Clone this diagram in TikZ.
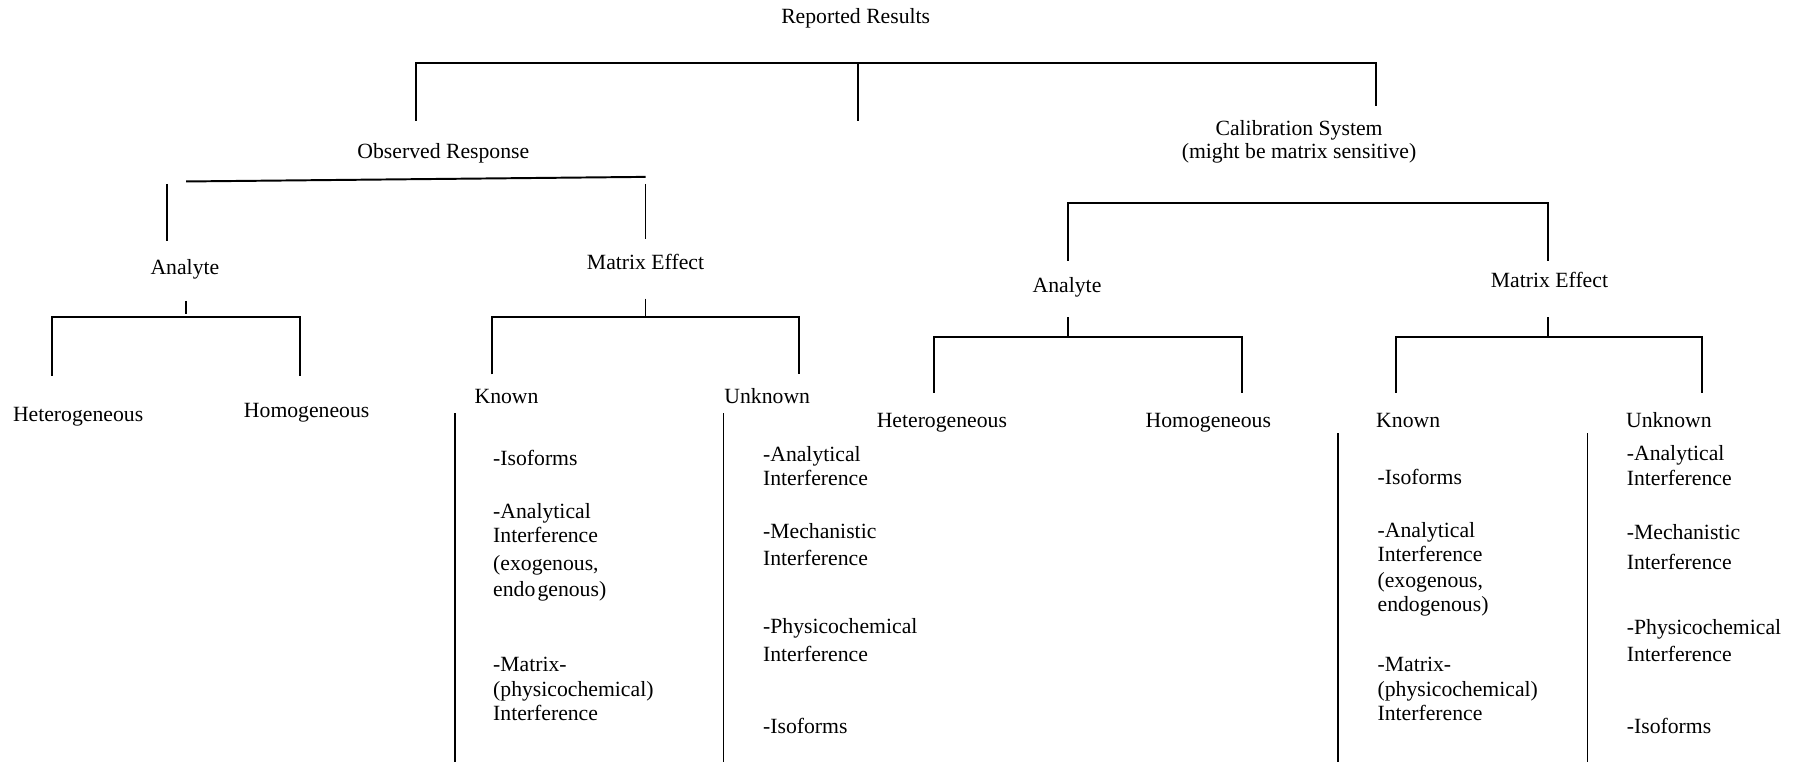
\documentclass[tikz,border=0pt]{standalone}
\usepackage{fontspec}
\setmainfont{Liberation Serif}
\usetikzlibrary{positioning}
\tikzset{
  treetext/.style={inner sep=0pt, font=\fontsize{10}{12}\selectfont, text height=0.8em, text depth=0.1em},
  listtext/.style={treetext, anchor=west},
  treeline/.style={line width=0.9pt},
  listline/.style={line width=0.6pt},
}

\begin{document}
\begin{tikzpicture}[x=0.186mm, y=-0.186mm]
  \useasboundingbox (0,0) rectangle (1568,663);
  % top level
  \node[treetext] (rep) at (745,14) {Reported Results};
  \node[treetext] (obs) at (386,131) {Observed Response};
  \node[treetext] (cal) at (1131,111) {Calibration System};
  \node[treetext] (calsub) at (1131,131) {(might be matrix sensitive)};
  \coordinate (rep-j) at (747,55); \coordinate (rep-m) at (747,105);
  \coordinate (obs-t) at (362,105); \coordinate (cal-t) at (1198,92);
  \draw[treeline] (obs-t) |- (rep-j) -| (cal-t);
  \draw[treeline] (rep-j) -- (rep-m);

  % observed response
  \node[treetext] (anaL) at (161,232) {Analyte};
  \node[treetext] (matL) at (562,228) {Matrix Effect};
  \coordinate (obs-l) at (162,158); \coordinate (obs-r) at (562,154);
  \coordinate (anaL-a) at (145,160); \coordinate (anaL-b) at (145,210);
  \coordinate (matL-a) at (562,160); \coordinate (matL-b) at (562,208);
  \draw[treeline] (obs-l) -- (obs-r);
  \draw[treeline] (anaL-a) -- (anaL-b);
  \draw[treeline] (matL-a) -- (matL-b);

  % analyte (left)
  \node[treetext] (hetL) at (68,360) {Heterogeneous};
  \node[treetext] (homL) at (267,357) {Homogeneous};
  \coordinate (anaL-s) at (162,262); \coordinate (anaL-e) at (162,273);
  \coordinate (anaL-j) at (162,276);
  \coordinate (hetL-t) at (45,327); \coordinate (homL-t) at (261,327);
  \draw[treeline] (anaL-s) -- (anaL-e);
  \draw[treeline] (hetL-t) |- (anaL-j) -| (homL-t);

  % matrix effect (left)
  \node[treetext] (knoL) at (441,345) {Known};
  \node[treetext] (unkL) at (668,345) {Unknown};
  \coordinate (matL-s) at (562,260); \coordinate (matL-j) at (562,276);
  \coordinate (knoL-t) at (428,326); \coordinate (unkL-t) at (696,326);
  \draw[treeline] (matL-s) -- (matL-j);
  \draw[treeline] (knoL-t) |- (matL-j) -| (unkL-t);
  \coordinate (knoL-a) at (396,360); \coordinate (knoL-b) at (396,663);
  \coordinate (unkL-a) at (630,360); \coordinate (unkL-b) at (630,663);
  \draw[listline] (knoL-a) -- (knoL-b);
  \draw[listline] (unkL-a) -- (unkL-b);
  \foreach \t/\y [count=\i] in {-Isoforms/399, -Analytical/445, Interference/466,
      {(exogenous,}/490, {endo\hspace{1pt}genous)}/513, -Matrix-/578,
      (physicochemical)/600, Interference/621}
    \node[listtext] (kl-\i) at (429,\y) {\t};
  \foreach \t/\y [count=\i] in {-Analytical/395, Interference/416, -Mechanistic/462,
      Interference/486, -Physicochemical/545, Interference/569, -Isoforms/632}
    \node[listtext] (ul-\i) at (664,\y) {\t};

  % calibration system
  \node[treetext] (anaR) at (929,248) {Analyte};
  \node[treetext] (matR) at (1349,244) {Matrix Effect};
  \coordinate (cal-j) at (1139,177);
  \coordinate (anaR-t) at (930,227); \coordinate (matR-t) at (1348,227);
  \draw[treeline] (anaR-t) |- (cal-j) -| (matR-t);

  % analyte (right)
  \node[treetext] (hetR) at (820,366) {Heterogeneous};
  \node[treetext] (homR) at (1052,366) {Homogeneous};
  \coordinate (anaR-s) at (930,276); \coordinate (anaR-j) at (930,293);
  \coordinate (hetR-t) at (813,342); \coordinate (homR-t) at (1081,342);
  \draw[treeline] (anaR-s) -- (anaR-j);
  \draw[treeline] (hetR-t) |- (anaR-j) -| (homR-t);

  % matrix effect (right)
  \node[treetext] (knoR) at (1226,366) {Known};
  \node[treetext] (unkR) at (1453,366) {Unknown};
  \coordinate (matR-s) at (1348,276); \coordinate (matR-j) at (1348,293);
  \coordinate (knoR-t) at (1215,342); \coordinate (unkR-t) at (1482,342);
  \draw[treeline] (matR-s) -- (matR-j);
  \draw[treeline] (knoR-t) |- (matR-j) -| (unkR-t);
  \coordinate (knoR-a) at (1165,377); \coordinate (knoR-b) at (1165,663);
  \coordinate (unkR-a) at (1382,377); \coordinate (unkR-b) at (1382,663);
  \draw[listline] (knoR-a) -- (knoR-b);
  \draw[listline] (unkR-a) -- (unkR-b);
  \foreach \t/\y [count=\i] in {-Isoforms/415, -Analytical/461, Interference/482,
      {(exogenous,}/505, endogenous)/526, -Matrix-/578,
      (physicochemical)/600, Interference/621}
    \node[listtext] (kr-\i) at (1199,\y) {\t};
  \foreach \t/\y [count=\i] in {-Analytical/394, Interference/416, -Mechanistic/463,
      Interference/489, -Physicochemical/546, Interference/569, -Isoforms/632}
    \node[listtext] (ur-\i) at (1416,\y) {\t};
\end{tikzpicture}
\end{document}
